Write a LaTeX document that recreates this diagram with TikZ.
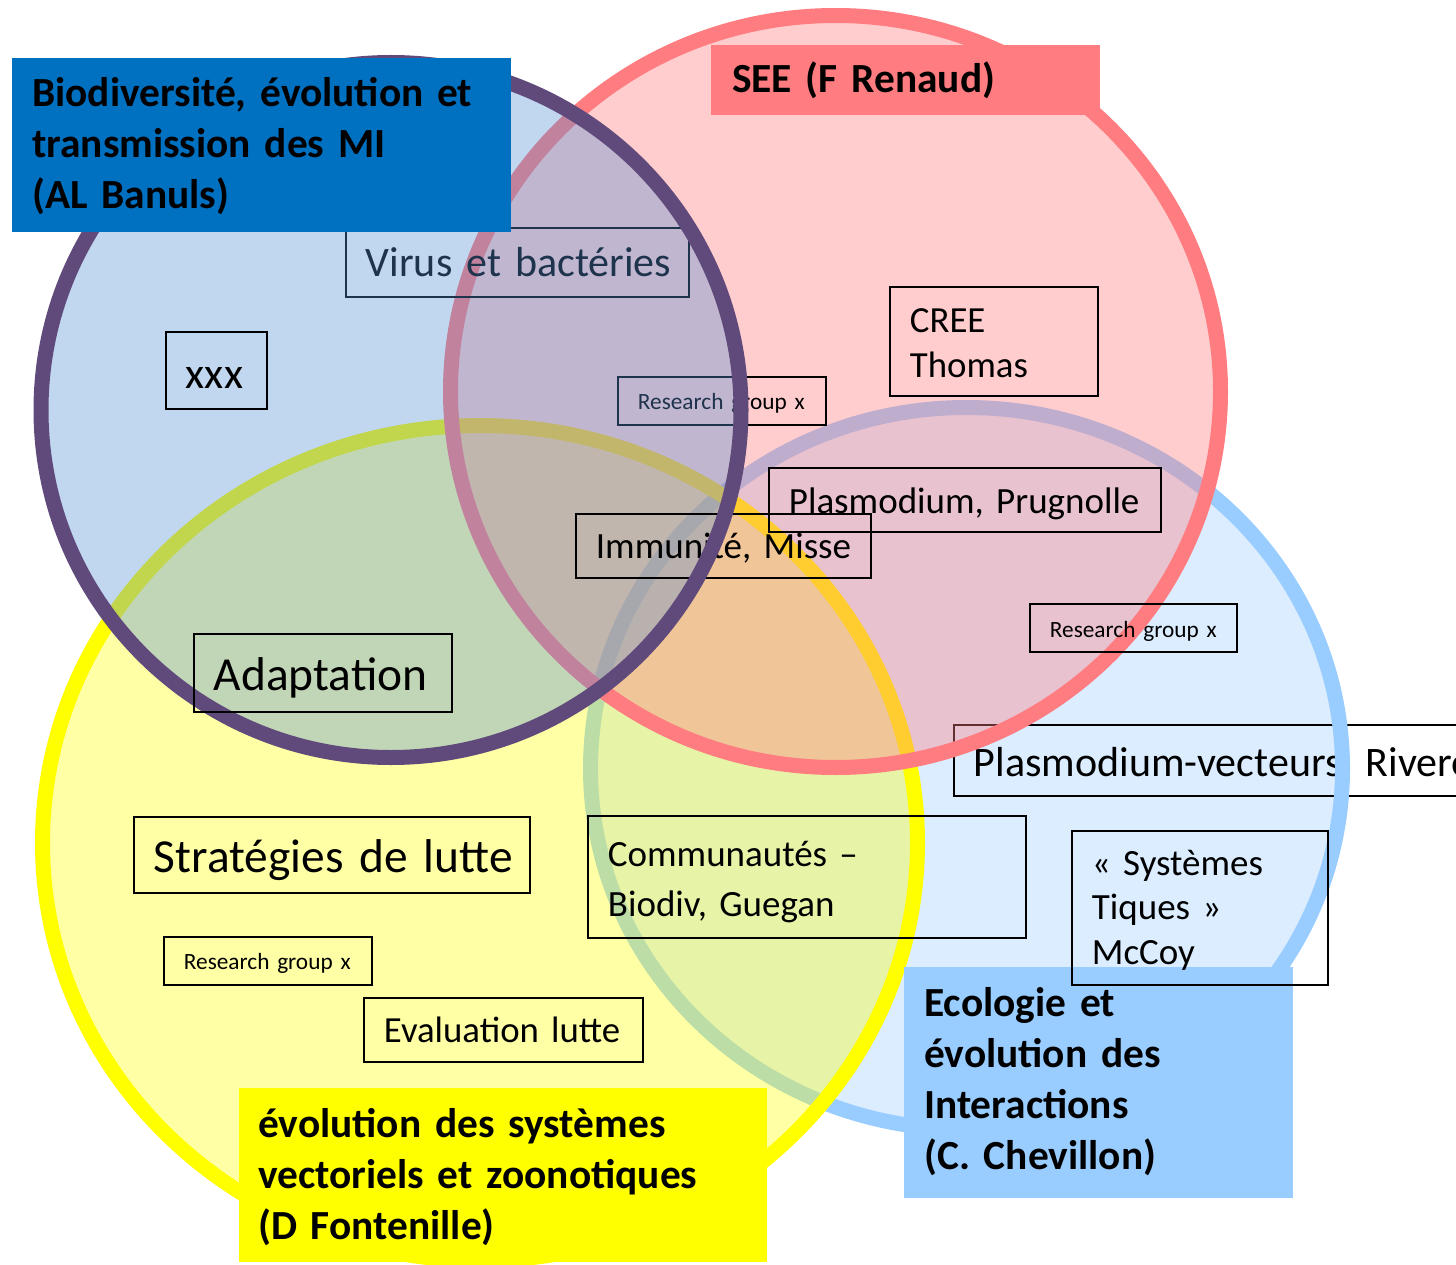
\documentclass[tikz,border=0pt]{standalone}
\usepackage{fontspec}
\setmainfont{Carlito}
\definecolor{purpleS}{HTML}{604A7B}
\definecolor{purpleF}{HTML}{558ED5}
\definecolor{pinkS}{HTML}{FF7C80}
\definecolor{yellowS}{HTML}{FFFF00}
\definecolor{blueS}{HTML}{99CCFF}
\definecolor{labelBlue}{HTML}{0070C0}
\begin{document}
\begin{tikzpicture}[x=1pt,y=-1pt,
  ring/.style={line width=15pt},
  box/.style={draw=black, line width=1.8pt, anchor=base west, inner xsep=20pt, inner ysep=0pt, align=left},
  lab/.style={anchor=base west, inner xsep=20pt, inner ysep=0pt, align=left, font=\fontsize{41.4}{51}\selectfont\bfseries},
  fs37/.style={font=\fontsize{37}{45}\selectfont},
  fsrg/.style={font=\fontsize{23.3}{28}\selectfont},
]
\path[use as bounding box] (0,0) rectangle (1456,1265);
\clip (0,0) rectangle (1456,1265);
\fill[white] (0,0) rectangle (1456,1265);

% blue circle (Ecologie)
\fill[blueS, fill opacity=0.35] (966.5,768.5) ellipse [x radius=376pt, y radius=361pt];
\node[box, font=\fontsize{42}{50}\selectfont, text width=527pt, text height=51pt, text depth=20pt] (pv) at (953,776) {\mbox{Plasmodium-vecteurs, Rivero}};
\draw[ring, blueS] (966.5,768.5) ellipse [x radius=376pt, y radius=361pt];

% yellow circle (lutte)
\path[ring, draw=yellowS, fill=yellowS, fill opacity=0.35] (480,843) ellipse [x radius=437.5pt, y radius=417.5pt];

% pink circle (SEE)
\path[ring, draw=pinkS, fill=pinkS, fill opacity=0.38] (835.5,391.5) ellipse [x radius=385pt, y radius=376pt];

% boxes under the purple fill
\node[box, font=\fontsize{42}{50}\selectfont, text width=303pt, text height=49pt, text depth=20pt] (virus) at (345,277) {\mbox{Virus et bactéries}};
\node[box, fsrg, text width=168pt, text height=32pt, text depth=16pt] (rg1) at (617,409) {\mbox{Research group x}};

% purple circle (Biodiversite)
\fill[purpleF, fill opacity=0.36] (391,410) ellipse [x radius=350pt, y radius=347.5pt];
\node[box, fs37, text width=255pt, text height=44pt, text depth=20pt] (immu) at (575,558) {\mbox{Immunité, Misse}};
\draw[ring, purpleS] (391,410) ellipse [x radius=350pt, y radius=347.5pt];

% other boxes
\node[box, font=\fontsize{44}{50}\selectfont, text width=61pt, text height=56pt, text depth=21pt] (xxx) at (165,388) {\mbox{xxx}};
\node[box, font=\fontsize{36.8}{45}\selectfont, text width=168pt, text height=45pt, text depth=64pt] (cree) at (889,332) {CREE\\Thomas};
\node[box, fs37, text width=352pt, text height=45pt, text depth=19pt] (prug) at (768,513) {\mbox{Plasmodium, Prugnolle}};
\node[box, fsrg, text width=167pt, text height=33pt, text depth=15pt] (rg2) at (1029,637) {\mbox{Research group x}};
\node[box, font=\fontsize{47.4}{56}\selectfont, text width=218pt, text height=56pt, text depth=22pt] (adapt) at (193,690) {\mbox{Adaptation}};
\node[box, font=\fontsize{47.4}{56}\selectfont, text width=356pt, text height=55pt, text depth=21pt] (strat) at (133,872) {\mbox{Stratégies de lutte}};
\node[box, fsrg, text width=168pt, text height=32pt, text depth=16pt] (rg3) at (163,969) {\mbox{Research group x}};
\node[box, font=\fontsize{36.8}{45}\selectfont, text width=239pt, text height=44pt, text depth=20pt] (eval) at (363,1042) {\mbox{Evaluation lutte}};
\node[box, font=\fontsize{37}{50}\selectfont, text width=398pt, text height=50pt, text depth=72pt] (comm) at (587,866) {\mbox{Communautés –}\\\mbox{Biodiv, Guegan}};

% group labels
\node[lab, fill=labelBlue, text width=459pt, text height=49pt, text depth=125pt] (lbio) at (12,107) {\mbox{Biodiversité, évolution et}\\\mbox{transmission des MI}\\\mbox{(AL Banuls)}};
\node[lab, fill=pinkS, inner xsep=21pt, text width=347pt, text height=48pt, text depth=22pt] (lsee) at (711,93) {\mbox{SEE (F Renaud)}};
\node[lab, fill=blueS, text width=349pt, text height=49pt, text depth=182pt] (leco) at (904,1016) {Ecologie et\\évolution des\\Interactions\\(C. Chevillon)};
\node[lab, fill=yellowS, inner xsep=19pt, text width=490pt, text height=49pt, text depth=125pt] (levo) at (239,1137) {\mbox{évolution des systèmes}\\\mbox{vectoriels et zoonotiques}\\\mbox{(D Fontenille)}};

% box on top of the Ecologie label
\node[box, font=\fontsize{37}{44.5}\selectfont, text width=216pt, text height=44pt, text depth=110pt] (tiq) at (1071,875) {« Systèmes\\Tiques »\\McCoy};
\end{tikzpicture}
\end{document}
